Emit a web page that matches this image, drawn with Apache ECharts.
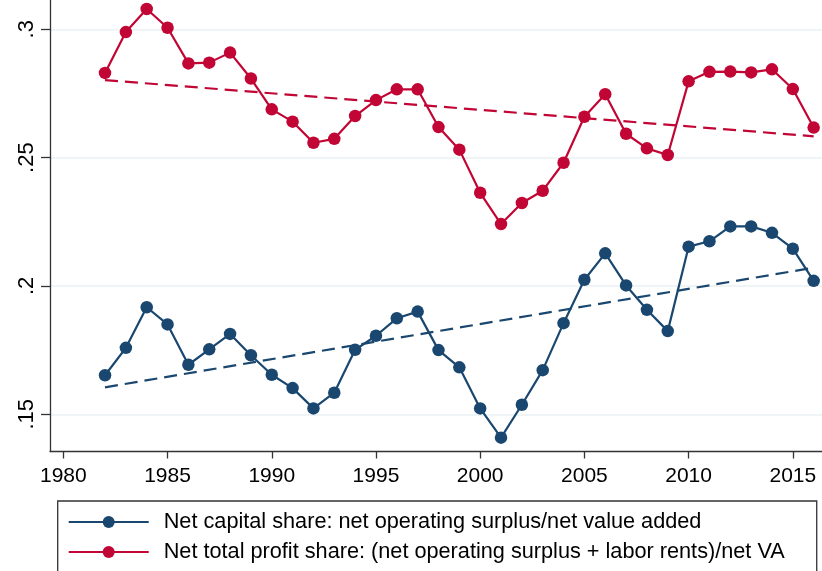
<!DOCTYPE html>
<html>
<head>
<meta charset="utf-8">
<script src="https://cdn.jsdelivr.net/npm/echarts@6/dist/echarts.min.js"></script>
<style>
  html, body { margin: 0; padding: 0; background: #fff; }
  #chart { width: 822px; height: 571px; }
</style>
</head>
<body>
<div id="chart"></div>
<script>
// data
const years = [1982, 1983, 1984, 1985, 1986, 1987, 1988, 1989, 1990, 1991,
  1992, 1993, 1994, 1995, 1996, 1997, 1998, 1999, 2000, 2001,
  2002, 2003, 2004, 2005, 2006, 2007, 2008, 2009, 2010, 2011,
  2012, 2013, 2014, 2015, 2016];

const capitalShare = [.1652, .1759, .1917, .1850, .1693, .1753, .1813, .1730, .1654, .1602,
  .1523, .1584, .1751, .1806, .1874, .1900, .1750, .1683, .1523, .1409,
  .1537, .1672, .1855, .2024, .2127, .2002, .1907, .1824, .2153, .2174,
  .2232, .2232, .2207, .2145, .2020];

const profitShare = [.2830, .2989, .3079, .3006, .2867, .2870, .2909, .2808, .2688, .2640,
  .2558, .2573, .2662, .2724, .2766, .2766, .2619, .2531, .2363, .2241,
  .2323, .2371, .2480, .2659, .2747, .2593, .2536, .2510, .2797, .2834,
  .2835, .2832, .2844, .2767, .2617];

// linear fit endpoints (dashed lines)
const capitalFit = [[1982, .1605], [2016, .2071]];
const profitFit = [[1982, .2802], [2016, .2583]];

const xTicks = [1980, 1985, 1990, 1995, 2000, 2005, 2010, 2015];
const yTicks = [0.15, 0.2, 0.25, 0.3];

const names = [
  'Net capital share: net operating surplus/net value added',
  'Net total profit share: (net operating surplus + labor rents)/net VA'
];

const BLUE = '#1a476f';
const RED = '#c10534';
const FONT = '"Liberation Sans", Arial, sans-serif';

const pairs = (vals) => years.map((y, i) => [y, vals[i]]);

const chart = echarts.init(document.getElementById('chart'), null, { renderer: 'canvas' });

chart.setOption({
  animation: false,
  backgroundColor: '#fff',
  textStyle: { fontFamily: FONT },
  grid: { left: 50, right: 0, top: 0, bottom: 119.5 },
  xAxis: {
    type: 'value',
    min: 1979.36,
    max: 2016.4,
    axisLine: { lineStyle: { color: '#333', width: 1.3 } },
    axisTick: { customValues: xTicks, length: 7, lineStyle: { color: '#333', width: 1.3 } },
    axisLabel: {
      customValues: xTicks,
      color: '#000',
      fontSize: 21,
      fontFamily: FONT,
      margin: 14,
      formatter: (v) => String(v)
    },
    splitLine: { show: false }
  },
  yAxis: {
    type: 'value',
    min: 0.1355,
    max: 0.3114,
    axisLine: { show: true, lineStyle: { color: '#333', width: 1.3 } },
    axisTick: { show: true, customValues: yTicks, length: 9, lineStyle: { color: '#333', width: 1.3 } },
    axisLabel: {
      customValues: yTicks,
      rotate: 90,
      color: '#000',
      fontSize: 22,
      fontFamily: FONT,
      margin: 12,
      formatter: (v) => String(+v.toFixed(2)).replace(/^0/, '')
    },
    splitLine: { show: true, lineStyle: { color: '#eaf2f3', width: 1.5 } }
  },
  legend: {
    data: names,
    orient: 'vertical',
    left: 57.7,
    top: 501,
    height: 120,
    itemWidth: 80,
    itemHeight: 15,
    itemGap: 8,
    padding: [10, 32, 10, 10],
    borderColor: '#333',
    borderWidth: 1.3,
    borderRadius: 0,
    textStyle: { color: '#000', fontSize: 21.7, fontFamily: FONT, padding: [0, 0, 0, 10] }
  },
  series: [
    {
      name: names[0],
      type: 'line',
      data: pairs(capitalShare),
      symbol: 'circle',
      symbolSize: 12.5,
      color: BLUE,
      lineStyle: { color: BLUE, width: 2.2 },
      itemStyle: { color: BLUE },
      z: 3
    },
    {
      name: names[1],
      type: 'line',
      data: pairs(profitShare),
      symbol: 'circle',
      symbolSize: 12.5,
      color: RED,
      lineStyle: { color: RED, width: 2.2 },
      itemStyle: { color: RED },
      z: 3
    },
    {
      name: 'capital fit',
      type: 'line',
      data: capitalFit,
      symbol: 'none',
      lineStyle: { color: BLUE, width: 2.2, type: [13, 7] },
      z: 2
    },
    {
      name: 'profit fit',
      type: 'line',
      data: profitFit,
      symbol: 'none',
      lineStyle: { color: RED, width: 2.2, type: [13, 7] },
      z: 2
    }
  ]
});

window.addEventListener('resize', () => chart.resize());
</script>
</body>
</html>
